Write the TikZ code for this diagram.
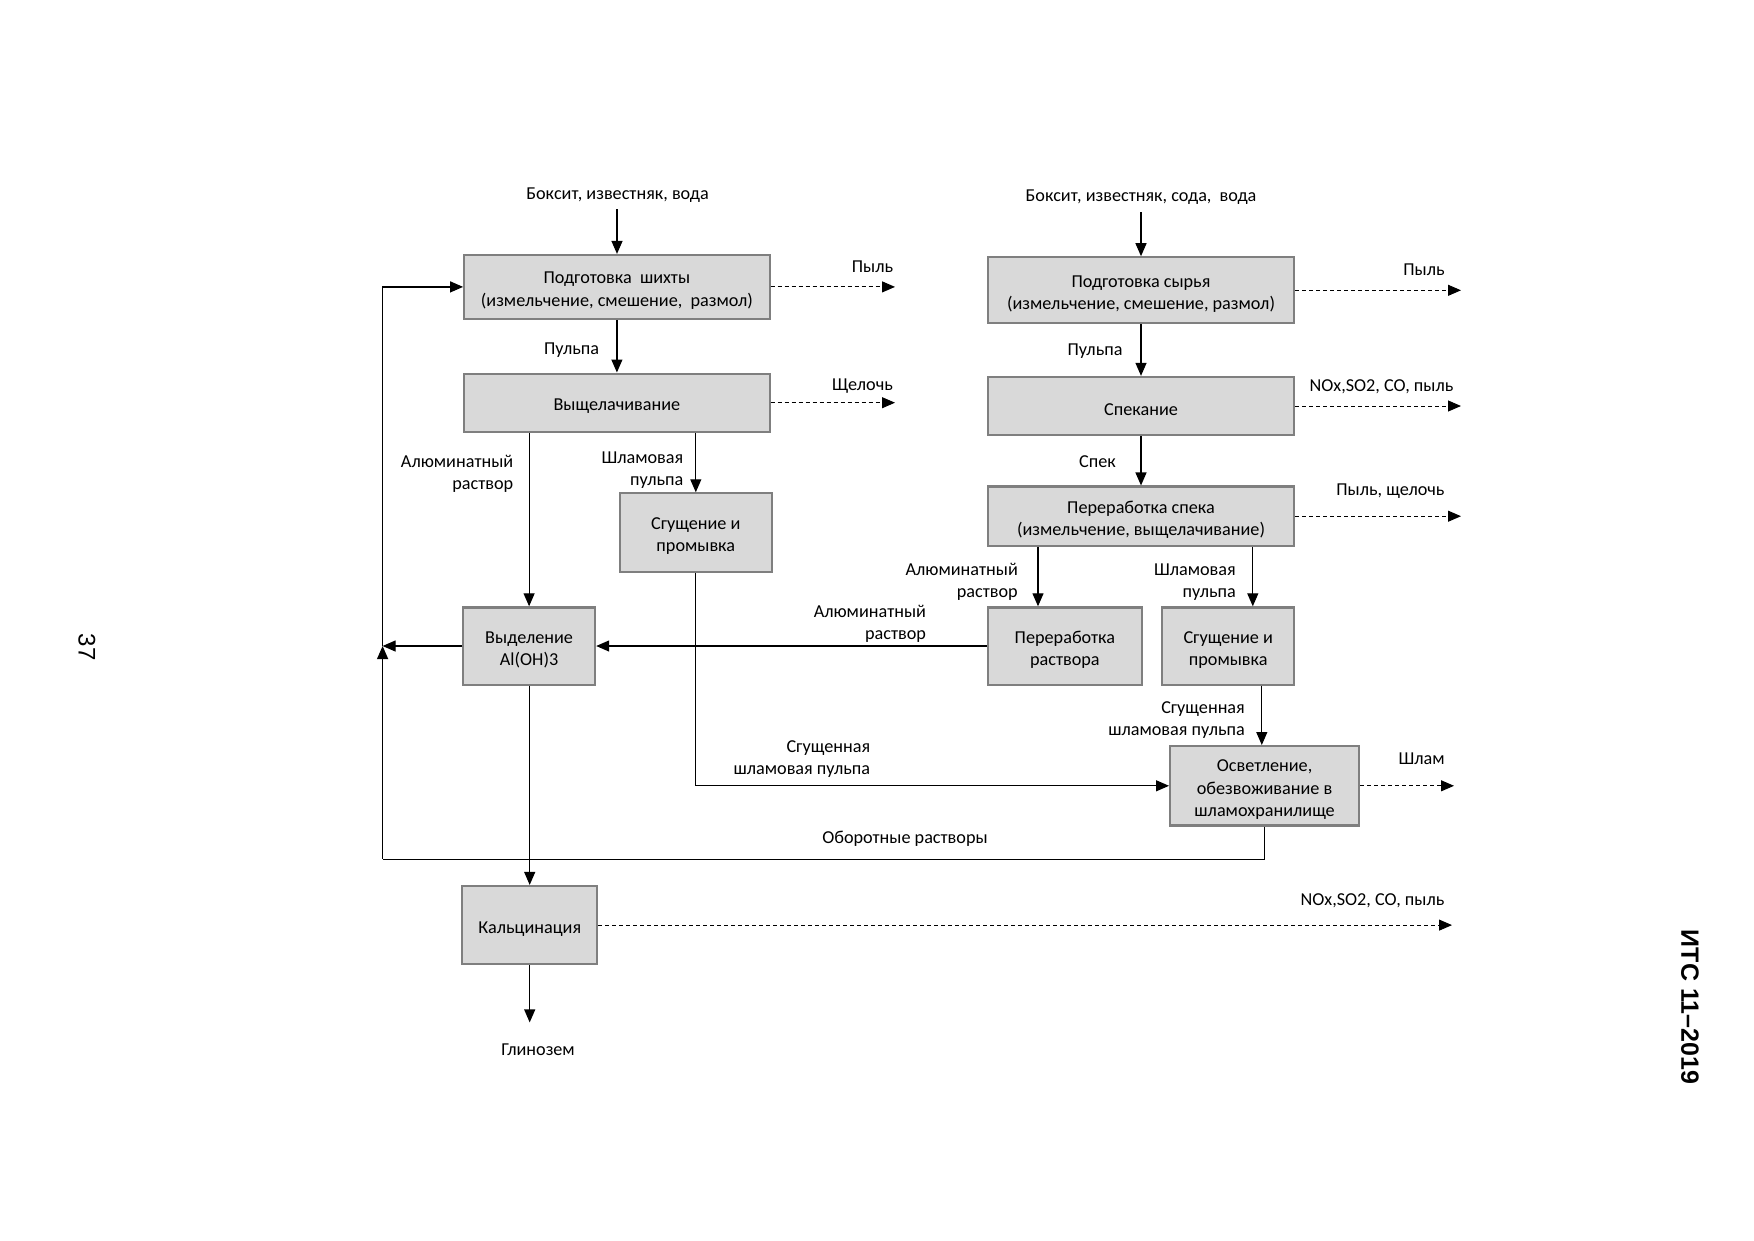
\documentclass[tikz,border=0pt]{standalone}
\usepackage{fontspec}
\setmainfont{Carlito}
\newfontfamily\arialfont{Liberation Sans}
\usetikzlibrary{arrows.meta}
\definecolor{boxfill}{HTML}{D9D9D9}
\definecolor{boxline}{HTML}{7F7F7F}
\tikzset{
  txt/.style={font=\fontsize{18.2}{22.4}\selectfont, inner sep=0pt, align=center},
  proc/.style={txt, draw=boxline, line width=2.2pt, fill=boxfill,
    execute at begin node={\rule{0pt}{19.5pt}}},
  procm/.style={txt, draw=boxline, line width=2.2pt, fill=boxfill,
    execute at begin node={\rule{0pt}{#1}}},
  procm/.default=41.9pt,
  lbl/.style={txt, execute at begin node={\rule{0pt}{17pt}}},
  lblr/.style={txt, align=right, anchor=east, execute at begin node={\rule{0pt}{39.8pt}}},
  ln/.style={line width=1.2pt},
  arr/.style={line width=1.2pt, -{Triangle[length=13pt,width=11pt]}},
  darr/.style={arr, line width=1pt, dash pattern=on 4pt off 3pt}
}
\begin{document}
\begin{tikzpicture}[x=1pt,y=-1pt]
\useasboundingbox (0,0) rectangle (1754,1240);
% ---------- left branch ----------
\node[lbl] (in1) at (617.5,192.4) {Боксит, известняк, вода};
\coordinate (in1a) at (617,209);
\node[procm, minimum width=305.4pt, minimum height=63.8pt] (b1) at (616.9,286.9) {Подготовка \ шихты\\(измельчение, смешение, \ размол)};
\node[proc, minimum width=305.4pt, minimum height=58.2pt] (b2) at (616.9,402.7) {Выщелачивание};
\node[procm, minimum width=152.1pt, minimum height=78.3pt] (b3) at (695.8,532.5) {Сгущение и\\промывка};
\node[procm, minimum width=132pt, minimum height=77.2pt] (b4) at (529.1,646) {Выделение\\Al(OH)3};
\node[proc, minimum width=135.3pt, minimum height=78.2pt] (b5) at (529.7,925.1) {Кальцинация};
\node[lbl] (glin) at (538,1047) {Глинозем};
\coordinate (glina) at (529.7,1022.4);

\node[lbl] (p1) at (872.5,263.8) {Пыль};
\coordinate (p1a) at (895,286.9);
\node[lbl] (sh1) at (862.5,383.7) {Щелочь};
\coordinate (sh1a) at (895,402.7);
\node[lbl] (pul1) at (571.6,347) {Пульпа};
\node[lblr] (al1) at (513.4,471) {Алюминатный\\раствор};
\node[lblr] (shp1) at (683.5,467) {Шламовая\\пульпа};
\node[lblr] (sgp1) at (870.3,756.2) {Сгущенная\\шламовая пульпа};
\node[lbl] (obr) at (905,836.7) {Оборотные растворы};
\node[lbl] (nox2) at (1372.5,898.2) {NOx,SO2, CO, пыль};
\coordinate (nox2a) at (1452,925.1);

% ---------- right branch ----------
\node[lbl] (in2) at (1141,194.6) {Боксит, известняк, сода, \ вода};
\coordinate (in2a) at (1141,212);
\node[procm, minimum width=306.5pt, minimum height=66pt] (r1) at (1141,290.3) {Подготовка сырья\\(измельчение, смешение, размол)};
\node[proc, minimum width=306.5pt, minimum height=58.1pt] (r2) at (1141,406) {Спекание};
\node[procm, minimum width=306.5pt, minimum height=59.3pt] (r3) at (1141,516.2) {Переработка спека\\(измельчение, выщелачивание)};
\node[procm, minimum width=154.4pt, minimum height=77.2pt] (r4) at (1064.9,646) {Переработка\\раствора};
\node[procm, minimum width=132pt, minimum height=77.2pt] (r5) at (1228.2,646) {Сгущение и\\промывка};
\node[procm=64.3pt, minimum width=189pt, minimum height=79.4pt] (r6) at (1264.6,785.8) {Осветление,\\обезвоживание в\\шламохранилище};

\node[lbl] (p2) at (1424,267.4) {Пыль};
\coordinate (p2a) at (1461,290.3);
\node[lbl] (pul2) at (1095,348) {Пульпа};
\node[lbl] (nox1) at (1381.5,383.7) {NOx,SO2, CO, пыль};
\coordinate (nox1a) at (1461,406);
\node[lbl] (spek) at (1097.4,458.7) {Спек};
\node[lbl] (psh) at (1390.4,488.8) {Пыль, щелочь};
\coordinate (psha) at (1461,516.2);
\node[lblr] (al2) at (1018,579) {Алюминатный\\раствор};
\node[lblr] (shp2) at (1236,579) {Шламовая\\пульпа};
\node[lblr] (al3) at (926.2,621.4) {Алюминатный\\раствор};
\node[lblr] (sgp2) at (1245,717.5) {Сгущенная\\шламовая пульпа};
\node[lbl] (shlam) at (1421.7,756) {Шлам};
\coordinate (shlama) at (1454,785.8);

\coordinate (x2) at (1038,0);
\coordinate (x3) at (1252.8,0);
\coordinate (x4) at (1261.8,0);
\coordinate (fb) at (382.6,646);
\coordinate (fbb) at (382.6,859.1);

% page marks
\node[font=\arialfont\fontsize{24}{24}\selectfont, rotate=-90, inner sep=0pt] (pg) at (87,647) {37};
\node[font=\arialfont\bfseries\fontsize{25}{25}\selectfont, rotate=-90, inner sep=0pt] (its) at (1690,1007) {ИТС 11–2019};

% ---------- connectors ----------
\draw[arr] (in1a) -- (in1a |- b1.north);
\draw[arr] (b1) -- (b2);
\draw[darr] (b1.east) -- (p1a);
\draw[darr] (b2.east) -- (sh1a);
\draw[arr] (b4.north |- b2.south) -- (b4.north);
\draw[arr] (b3.north |- b2.south) -- (b3.north);
\draw[arr] (b3.south) |- (r6.west);
\draw[arr] (r4.west) -- (b4.east);
\draw[arr] (b4.west) -- (fb);
\draw[arr] (b5.north |- b4.south) -- (b5.north);
\draw[darr] (b5.east) -- (nox2a);
\draw[arr] (b5.south) -- (glina);
\draw[ln] (r6.south) |- (fbb);
\draw[arr] (fbb) -- (fb);
\draw[arr] (fb) |- (b1.west);

\draw[arr] (in2a) -- (r1.north);
\draw[arr] (r1) -- (r2);
\draw[arr] (r2) -- (r3);
\draw[darr] (r1.east) -- (p2a);
\draw[darr] (r2.east) -- (nox1a);
\draw[darr] (r3.east) -- (psha);
\draw[arr] (x2 |- r3.south) -- (x2 |- r4.north);
\draw[arr] (x3 |- r3.south) -- (x3 |- r5.north);
\draw[arr] (x4 |- r5.south) -- (x4 |- r6.north);
\draw[darr] (r6.east) -- (shlama);
\end{tikzpicture}
\end{document}
